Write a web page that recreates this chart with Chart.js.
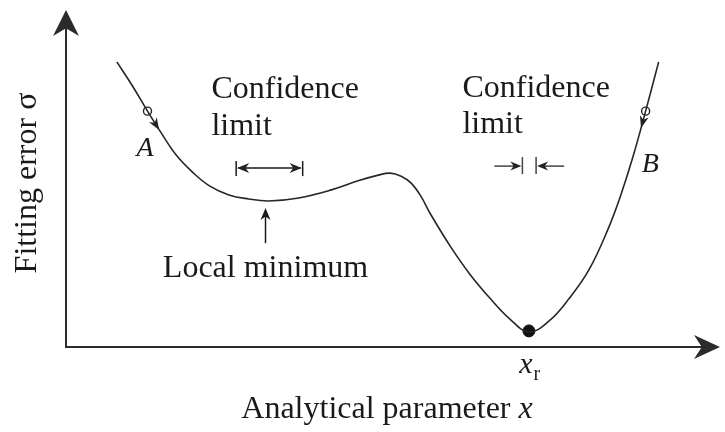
<!DOCTYPE html>
<html>
<head>
<meta charset="utf-8">
<title>Fitting error vs analytical parameter</title>
<script src="https://cdn.jsdelivr.net/npm/chart.js@4.4.0/dist/chart.umd.min.js"></script>
<style>
  html, body { margin: 0; padding: 0; background: #fff; }
  #wrap { width: 725px; height: 432px; position: relative; }
</style>
</head>
<body>
<div id="wrap"><canvas id="chart"></canvas></div>
<script>
// error curve sampled along the parameter axis
const paramX = [0.78, 1.02, 1.25, 1.46, 1.69, 1.94, 2.20, 2.50, 2.80, 3.11, 3.57, 4.07, 4.48, 4.79, 4.97, 5.14,
  5.29, 5.44, 5.59, 5.90, 6.20, 6.51, 6.80, 7.10, 7.41, 7.71, 8.02, 8.32, 8.51, 8.69, 8.89, 9.09];
const errorY = [8.51, 7.79, 7.04, 6.39, 5.73, 5.22, 4.81, 4.54, 4.42, 4.36, 4.45, 4.69, 4.96, 5.13, 5.19, 5.10,
  4.90, 4.51, 3.97, 2.99, 2.16, 1.44, 0.85, 0.45, 0.78, 1.43, 2.30, 3.55, 4.54, 5.64, 7.04, 8.51];

// starting points A and B, and the global minimum x_r
const startLabels = ['A', 'B'];
const startX = [1.25, 8.89];
const startY = [7.04, 7.04];
const bestX = [7.10];
const bestY = [0.48];

const SERIF = '"Liberation Serif", "Times New Roman", serif';
const INK = '#1a1a1a';

function arrowHead(ctx, x, y, ang, len, half) {
  ctx.save();
  ctx.translate(x, y);
  ctx.rotate(ang);
  ctx.beginPath();
  ctx.moveTo(0, 0);
  ctx.lineTo(-len, -half);
  ctx.lineTo(-len * 0.7, 0);
  ctx.lineTo(-len, half);
  ctx.closePath();
  ctx.fill();
  ctx.restore();
}

function line(ctx, x1, y1, x2, y2) {
  ctx.beginPath();
  ctx.moveTo(x1, y1);
  ctx.lineTo(x2, y2);
  ctx.stroke();
}

const sketch = {
  id: 'sketch',
  beforeDatasetsDraw(chart) {
    const { ctx, chartArea: a } = chart;
    ctx.save();
    ctx.strokeStyle = '#2b2b2b';
    ctx.fillStyle = '#2b2b2b';
    ctx.lineWidth = 2;
    // axes with arrow tips
    line(ctx, a.left, a.bottom, a.left, a.top + 10);
    arrowHead(ctx, a.left, a.top - 2, -Math.PI / 2, 26, 13);
    line(ctx, a.left - 1, a.bottom, a.right - 10, a.bottom);
    arrowHead(ctx, a.right + 2, a.bottom, 0, 26, 12);
    ctx.restore();
  },
  afterDatasetsDraw(chart) {
    const { ctx } = chart;
    const sx = chart.scales.x, sy = chart.scales.y;
    const px = v => sx.getPixelForValue(v);
    const py = v => sy.getPixelForValue(v);
    ctx.save();
    ctx.fillStyle = INK;
    ctx.strokeStyle = INK;

    // direction arrows on the curve below A and B
    ctx.fillStyle = '#222';
    arrowHead(ctx, px(1.43), py(6.48), Math.atan2(46, 29), 12, 4.5);
    arrowHead(ctx, px(8.82), py(6.54), Math.atan2(47, -13), 12, 4.5);

    // confidence limit around the local minimum
    ctx.lineWidth = 1.5;
    let y0 = py(5.34), xa = px(2.61), xb = px(3.63);
    line(ctx, xa, y0 - 7, xa, y0 + 8);
    line(ctx, xb, y0 - 7, xb, y0 + 8);
    line(ctx, xa + 2, y0, xb - 2, y0);
    arrowHead(ctx, xa + 1, y0, Math.PI, 12, 5);
    arrowHead(ctx, xb - 1, y0, 0, 12, 5);

    // confidence limit around x_r
    ctx.strokeStyle = '#444';
    ctx.fillStyle = '#222';
    y0 = py(5.40); xa = px(7.00); xb = px(7.21);
    line(ctx, xa, y0 - 9, xa, y0 + 8);
    line(ctx, xb, y0 - 9, xb, y0 + 8);
    line(ctx, px(6.57), y0, xa - 4, y0);
    line(ctx, px(7.64), y0, xb + 4, y0);
    arrowHead(ctx, xa - 1, y0, 0, 11, 4.5);
    arrowHead(ctx, xb + 1, y0, Math.PI, 11, 4.5);

    // pointer to the local minimum
    ctx.strokeStyle = INK;
    ctx.fillStyle = INK;
    const xm = px(3.06);
    line(ctx, xm, py(3.10), xm, py(4.15) + 6);
    arrowHead(ctx, xm, py(4.15), -Math.PI / 2, 12, 5);

    // labels
    ctx.textBaseline = 'alphabetic';
    ctx.textAlign = 'left';
    ctx.font = '32px ' + SERIF;
    ctx.fillText('Confidence', px(2.23), py(7.43));
    ctx.fillText('limit', px(2.23), py(6.33));
    ctx.fillText('Confidence', px(6.08), py(7.46));
    ctx.fillText('limit', px(6.08), py(6.39));
    ctx.textAlign = 'center';
    ctx.fillText('Local minimum', xm, py(2.09));

    ctx.textAlign = 'left';
    ctx.font = 'italic 28px ' + SERIF;
    ctx.fillText(startLabels[0], px(1.08), py(5.70));
    ctx.fillText(startLabels[1], px(8.83), py(5.22));

    ctx.font = 'italic 30px ' + SERIF;
    const xr0 = px(6.95), xrb = py(-0.78);
    ctx.fillText('x', xr0, xrb);
    const wx = ctx.measureText('x').width;
    ctx.font = '20px ' + SERIF;
    ctx.fillText('r', xr0 + wx + 1, xrb + 7);

    // axis titles
    ctx.font = '32px ' + SERIF;
    const t1 = 'Analytical parameter ';
    const w1 = ctx.measureText(t1).width;
    ctx.font = 'italic 32px ' + SERIF;
    const w2 = ctx.measureText('x').width;
    const left = 387 - (w1 + w2) / 2;
    ctx.font = '32px ' + SERIF;
    ctx.fillText(t1, left, 418);
    ctx.font = 'italic 32px ' + SERIF;
    ctx.fillText('x', left + w1, 418);

    ctx.translate(36, 183);
    ctx.rotate(-Math.PI / 2);
    ctx.textAlign = 'center';
    ctx.font = '32px ' + SERIF;
    ctx.fillText('Fitting error σ', 0, 0);
    ctx.restore();
  }
};

new Chart(document.getElementById('chart'), {
  type: 'line',
  data: {
    datasets: [
      {
        data: paramX.map((x, i) => ({ x, y: errorY[i] })),
        borderColor: '#262626',
        borderWidth: 1.6,
        pointRadius: 0,
        tension: 0.4,
        fill: false
      },
      {
        data: startX.map((x, i) => ({ x, y: startY[i] })),
        showLine: false,
        pointRadius: 4,
        pointBackgroundColor: '#fff',
        pointBorderColor: '#222',
        pointBorderWidth: 1.4
      },
      {
        data: bestX.map((x, i) => ({ x, y: bestY[i] })),
        showLine: false,
        pointRadius: 6,
        pointBackgroundColor: '#111',
        pointBorderColor: '#111'
      }
    ]
  },
  options: {
    responsive: true,
    maintainAspectRatio: false,
    animation: false,
    events: [],
    layout: { padding: { left: 66, right: 3, top: 12, bottom: 85 } },
    plugins: { legend: { display: false }, tooltip: { enabled: false } },
    scales: {
      x: { type: 'linear', min: 0, max: 10, display: false },
      y: { type: 'linear', min: 0, max: 10, display: false }
    }
  },
  plugins: [sketch]
});
</script>
</body>
</html>
